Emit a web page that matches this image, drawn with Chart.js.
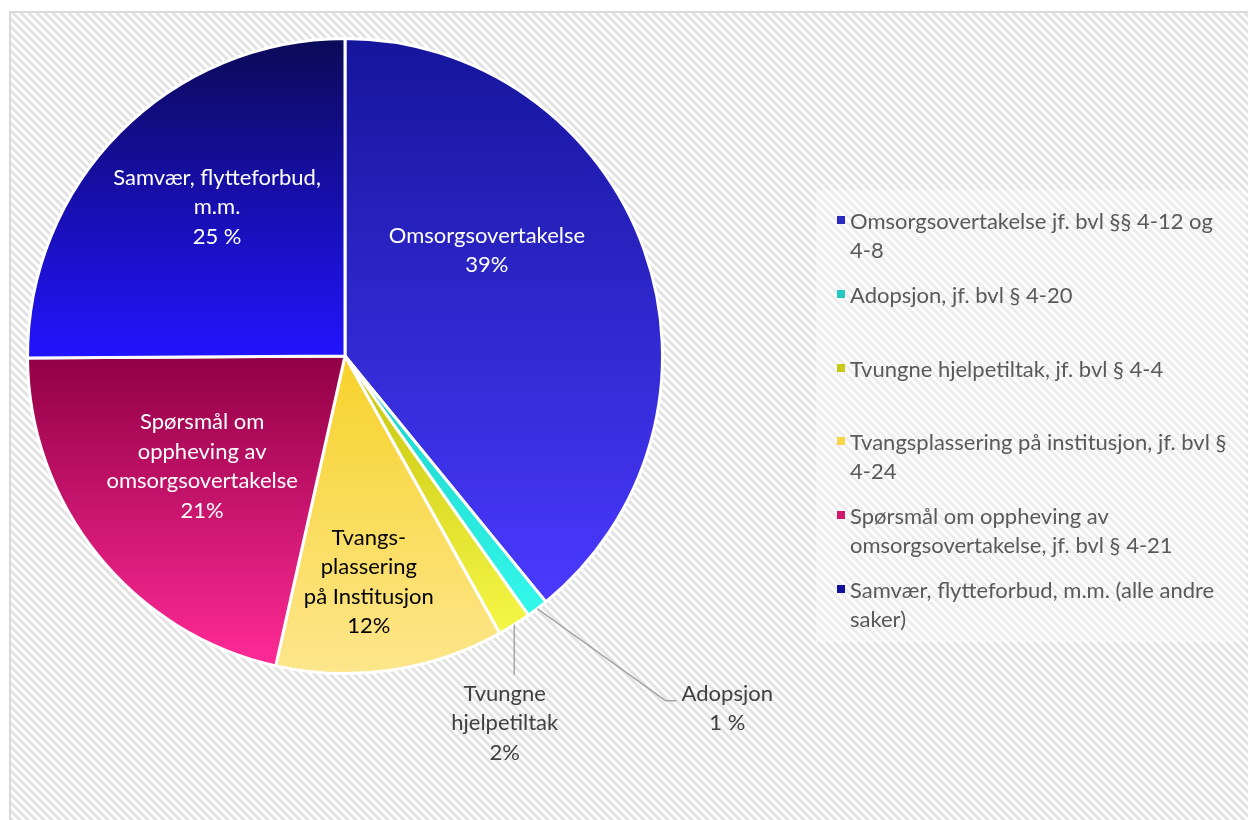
<!DOCTYPE html>
<html>
<head>
<meta charset="utf-8">
<script src="https://cdn.jsdelivr.net/npm/chart.js@4.4.1/dist/chart.umd.min.js"></script>
<style>
  body { margin: 0; background: #fff; }
  #wrap { position: relative; width: 1248px; height: 820px; overflow: hidden; }
  #myChart { position: absolute; left: 0; top: 0; }
  #legend { position: absolute; left: 816px; top: 190px; width: 430px; height: 452px;
            background: rgba(255,255,255,0.35); font-family: Lato, sans-serif; font-size: 22px;
            color: #595959; }
  .item { position: absolute; left: 0; }
  .box { position: absolute; left: 21px; top: 10px; width: 8px; height: 8px; }
  .txt { position: absolute; left: 34px; top: 0; line-height: 29px; white-space: nowrap; }
</style>
</head>
<body>
<div id="wrap">
  <canvas id="myChart" width="1248" height="820"></canvas>
  <div id="legend"></div>
</div>
<script>
// Categories (legend text) and values
const categories = [
    'Omsorgsovertakelse jf. bvl §§ 4-12 og\n4-8',
    'Adopsjon, jf. bvl § 4-20',
    'Tvungne hjelpetiltak, jf. bvl § 4-4',
    'Tvangsplassering på institusjon, jf. bvl §\n4-24',
    'Spørsmål om oppheving av\nomsorgsovertakelse, jf. bvl § 4-21',
    'Samvær, flytteforbud, m.m. (alle andre\nsaker)'
];
const shares = [39.1, 1.1, 1.7, 11.6, 21.4, 25.1];
const sliceLabels = [
    ['Omsorgsovertakelse', '39%'],
    ['Adopsjon', '1 %'],
    ['Tvungne', 'hjelpetiltak', '2%'],
    ['Tvangs-', 'plassering', 'på Institusjon', '12%'],
    ['Spørsmål om', 'oppheving av', 'omsorgsovertakelse', '21%'],
    ['Samvær, flytteforbud,', 'm.m.', '25 %']
];

// Colours
const gradTop = ['#15159c', '#18cfc8', '#c4c40c', '#f7d22a', '#920046', '#0c0a58'];
const gradBottom = ['#4a3aff', '#34f8ec', '#f6f646', '#fde68c', '#ff2a96', '#2214ff'];
const legendColors = ['#2a2ac0', '#26c8c4', '#c8c818', '#f8d448', '#d01870', '#10109a'];
const labelColors = ['#ffffff', '#404040', '#404040', '#000000', '#ffffff', '#ffffff'];

// Label placement relative to pie centre, in units of radius
const labelPos = [[0.447, -0.333], [1.204, 1.11], [0.503, 1.157], [0.075, 0.711], [-0.450, 0.347], [-0.403, -0.469]];
const leaderType = [null, 'elbow', 'down', null, null, null];

const FONT = '22px Lato, sans-serif';
const LINE_H = 29.5;

function pieGeom(chart) {
    const a = chart.chartArea;
    const meta = chart.getDatasetMeta(0);
    const arc = meta.data[0];
    if (arc && arc.outerRadius) return { cx: arc.x, cy: arc.y, r: arc.outerRadius };
    return { cx: (a.left + a.right) / 2, cy: (a.top + a.bottom) / 2, r: Math.min(a.width, a.height) / 2 - 1.5 };
}

function sliceAngles(i) {
    const total = shares.reduce((s, v) => s + v, 0);
    let before = 0;
    for (let k = 0; k < i; k++) before += shares[k];
    const start = before / total * Math.PI * 2 - Math.PI / 2;
    const end = (before + shares[i]) / total * Math.PI * 2 - Math.PI / 2;
    return [start, end];
}

function sliceGradient(context) {
    const chart = context.chart;
    const i = context.dataIndex;
    if (!chart.chartArea || i === undefined) return gradTop[i] || '#888';
    const a = chart.chartArea;
    const cx = (a.left + a.right) / 2, cy = (a.top + a.bottom) / 2;
    const r = Math.min(a.width, a.height) / 2 - 1.5;
    const [s, e] = sliceAngles(i);
    let ys = [cy, cy + r * Math.sin(s), cy + r * Math.sin(e)];
    // include extremes at -90° and 90°
    [-Math.PI / 2, Math.PI / 2, Math.PI * 1.5].forEach(t => {
        if (t >= s && t <= e) ys.push(cy + r * Math.sin(t));
    });
    const y0 = Math.min(...ys), y1 = Math.max(...ys);
    const g = chart.ctx.createLinearGradient(0, y0, 0, y1);
    g.addColorStop(0, gradTop[i]);
    g.addColorStop(1, gradBottom[i]);
    return g;
}

// Hatched background with a thin frame
const backgroundPlugin = {
    id: 'hatch',
    beforeDraw(chart) {
        const c = chart.ctx;
        const tile = document.createElement('canvas');
        tile.width = 8; tile.height = 8;
        const t = tile.getContext('2d');
        t.fillStyle = '#ffffff';
        t.fillRect(0, 0, 8, 8);
        t.strokeStyle = '#e2e2e2';
        t.lineWidth = 3;
        t.beginPath();
        t.moveTo(-2, -2); t.lineTo(10, 10);
        t.moveTo(-10, -2); t.lineTo(2, 10);
        t.moveTo(6, -2); t.lineTo(18, 10);
        t.stroke();
        c.save();
        c.fillStyle = '#ffffff';
        c.fillRect(0, 0, chart.width, chart.height);
        c.fillStyle = c.createPattern(tile, 'repeat');
        c.fillRect(10, 12, chart.width - 10, chart.height - 12);
        c.strokeStyle = '#d9d9d9';
        c.lineWidth = 2;
        c.beginPath();
        c.moveTo(10, chart.height); c.lineTo(10, 12); c.lineTo(chart.width, 12);
        c.stroke();
        c.restore();
    }
};

// Slice labels and leader lines
const labelPlugin = {
    id: 'sliceLabels',
    afterDatasetsDraw(chart) {
        const c = chart.ctx;
        const { cx, cy, r } = pieGeom(chart);
        c.save();
        c.font = FONT;
        c.textAlign = 'center';
        c.textBaseline = 'middle';
        sliceLabels.forEach((lines, i) => {
            const lx = cx + labelPos[i][0] * r;
            const ly = cy + labelPos[i][1] * r;
            const firstY = ly - (lines.length - 1) * LINE_H / 2;
            if (leaderType[i]) {
                const [s, e] = sliceAngles(i);
                const m = (s + e) / 2;
                const ex = cx + r * Math.cos(m), ey = cy + r * Math.sin(m);
                c.strokeStyle = '#a6a6a6';
                c.lineWidth = 1.5;
                c.beginPath();
                c.moveTo(ex, ey);
                if (leaderType[i] === 'down') {
                    c.lineTo(ex, firstY - 19);
                } else {
                    const left = lx - c.measureText(lines[0]).width / 2;
                    c.lineTo(left - 16, firstY + 7);
                    c.lineTo(left - 5, firstY + 7);
                }
                c.stroke();
            }
            c.fillStyle = labelColors[i];
            lines.forEach((txt, k) => c.fillText(txt, lx, firstY + k * LINE_H));
        });
        c.restore();
    }
};

const ctx = document.getElementById('myChart').getContext('2d');
const myChart = new Chart(ctx, {
    type: 'pie',
    data: {
        labels: categories,
        datasets: [{
            data: shares,
            backgroundColor: sliceGradient,
            borderColor: '#ffffff',
            borderWidth: 3
        }]
    },
    options: {
        responsive: false,
        animation: false,
        layout: { padding: { left: 26, top: 37, right: 584, bottom: 145 } },
        plugins: {
            legend: { display: false },
            tooltip: { enabled: false }
        }
    },
    plugins: [backgroundPlugin, labelPlugin]
});

// HTML legend
const legendEl = document.getElementById('legend');
categories.forEach((name, i) => {
    const item = document.createElement('div');
    item.className = 'item';
    item.style.top = (16 + i * 73.8) + 'px';
    const box = document.createElement('div');
    box.className = 'box';
    box.style.background = legendColors[i];
    const txt = document.createElement('div');
    txt.className = 'txt';
    txt.innerHTML = name.split('\n').join('<br>');
    item.appendChild(box);
    item.appendChild(txt);
    legendEl.appendChild(item);
});
</script>
</body>
</html>
